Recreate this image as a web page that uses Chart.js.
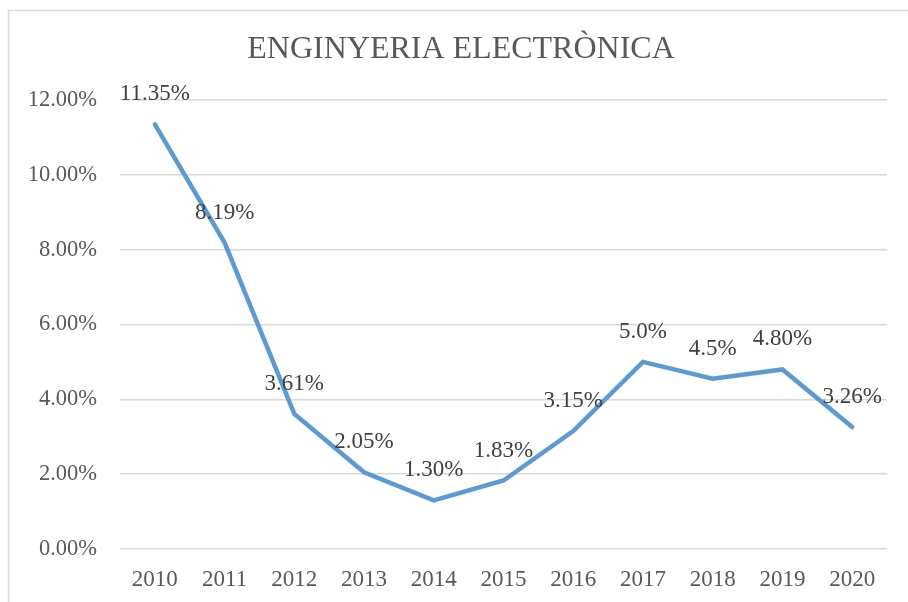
<!DOCTYPE html>
<html>
<head>
<meta charset="utf-8">
<script src="https://cdn.jsdelivr.net/npm/chart.js@4"></script>
<style>
  html, body { margin: 0; padding: 0; background: #fff; overflow: hidden; }
  #grafico { display: block; }
</style>
</head>
<body>
<canvas id="grafico" width="908" height="602"></canvas>
<script>
const titulo = "ENGINYERIA ELECTRÒNICA";
const anys = ["2010", "2011", "2012", "2013", "2014", "2015", "2016", "2017", "2018", "2019", "2020"];
const valors = [11.35, 8.19, 3.61, 2.05, 1.30, 1.83, 3.15, 5.0, 4.55, 4.80, 3.26];
const etiquetes = ["11.35%", "8.19%", "3.61%", "2.05%", "1.30%", "1.83%", "3.15%", "5.0%", "4.5%", "4.80%", "3.26%"];

const serif = "'Liberation Serif', 'Times New Roman', serif";

// marc, títol i etiquetes de dades
const extres = {
    id: "extres",
    beforeDraw(chart) {
        const ctx = chart.ctx;
        ctx.save();
        ctx.strokeStyle = "#d9d9d9";
        ctx.lineWidth = 1.5;
        ctx.strokeRect(8.5, 10.5, 1000, 1000);
        ctx.fillStyle = "#595959";
        ctx.font = "32px " + serif;
        ctx.textAlign = "center";
        ctx.textBaseline = "middle";
        ctx.fillText(titulo, 461, 50);
        ctx.restore();
    },
    afterDatasetsDraw(chart) {
        const ctx = chart.ctx;
        const meta = chart.getDatasetMeta(0);
        ctx.save();
        ctx.fillStyle = "#404040";
        ctx.font = "23px " + serif;
        ctx.textAlign = "center";
        ctx.textBaseline = "middle";
        meta.data.forEach((p, i) => {
            ctx.fillText(etiquetes[i], p.x, p.y - 30);
        });
        ctx.restore();
    }
};

new Chart(document.getElementById("grafico"), {
    type: "line",
    data: {
        labels: anys,
        datasets: [{
            data: valors,
            borderColor: "#5b9bd5",
            borderWidth: 4.5,
            borderCapStyle: "round",
            borderJoinStyle: "miter",
            pointRadius: 0,
            tension: 0
        }]
    },
    options: {
        responsive: false,
        animation: false,
        layout: { padding: { top: 100, right: 21, bottom: 0, left: 0 } },
        plugins: {
            legend: { display: false },
            tooltip: { enabled: false }
        },
        scales: {
            x: {
                offset: true,
                grid: { display: false },
                border: { display: false },
                ticks: {
                    color: "#595959",
                    font: { family: serif, size: 23 },
                    padding: 9,
                    maxRotation: 0
                },
                afterFit(scale) { scale.height = 53; }
            },
            y: {
                min: 0,
                max: 12,
                grid: { color: "#d9d9d9", lineWidth: 1.5, drawTicks: false },
                border: { display: false },
                ticks: {
                    stepSize: 2,
                    color: "#595959",
                    font: { family: serif, size: 22.5 },
                    padding: 23,
                    callback: v => v.toFixed(2) + "%"
                },
                afterFit(scale) { scale.width = 120; }
            }
        }
    },
    plugins: [extres]
});
</script>
</body>
</html>
